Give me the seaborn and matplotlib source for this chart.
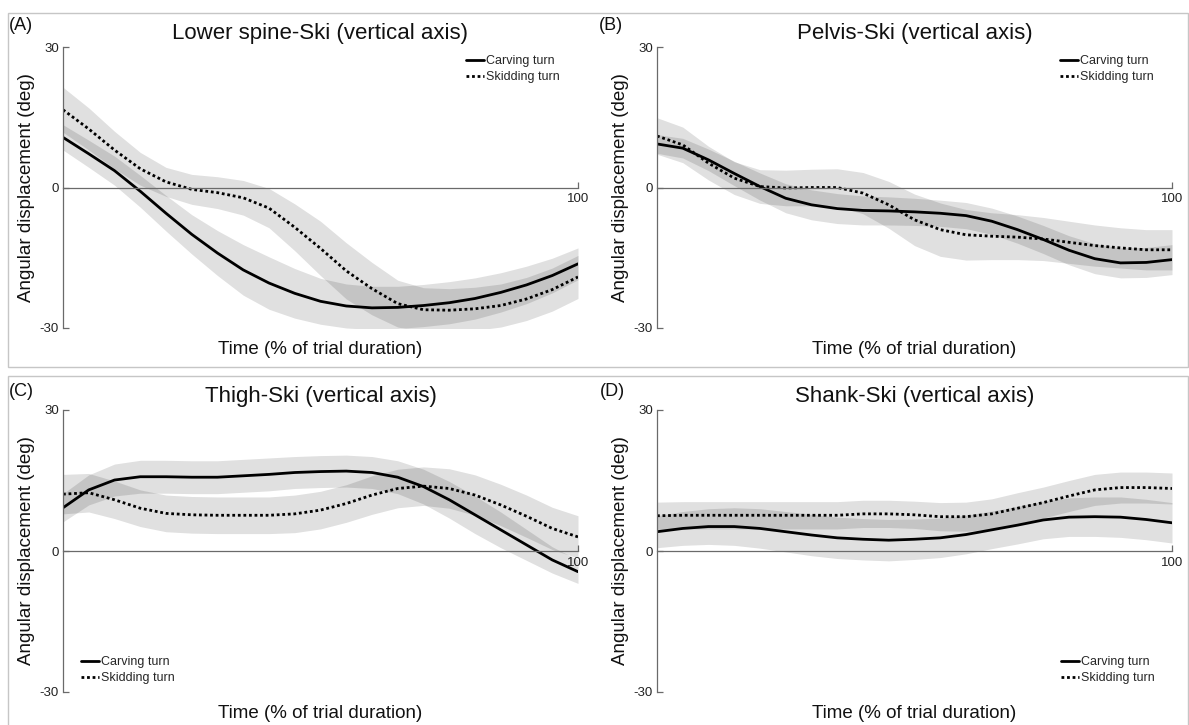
import pandas as pd
import seaborn as sns
import matplotlib.pyplot as plt
from matplotlib.patches import Rectangle

# time axis, % of trial duration
time_pct = [0, 5, 10, 15, 20, 25, 30, 35, 40, 45, 50, 55, 60, 65, 70, 75, 80, 85, 90, 95, 100]

# (A) Lower spine-Ski
spine_carv = [10.7, 7.2, 3.6, -0.8, -5.5, -10.0, -14.0, -17.6, -20.4, -22.6, -24.3, -25.3, -25.7, -25.6, -25.2, -24.6, -23.7, -22.4, -20.8, -18.8, -16.3]
spine_carv_sd = [2.7, 2.9, 3.1, 3.4, 3.8, 4.2, 4.8, 5.4, 5.6, 5.3, 4.9, 4.7, 4.6, 4.5, 4.5, 4.5, 4.4, 4.2, 4.0, 3.7, 3.4]
spine_skid = [16.6, 12.5, 8.0, 4.0, 1.2, -0.4, -1.1, -2.2, -4.4, -8.5, -13.0, -17.8, -21.6, -24.8, -26.1, -26.2, -25.9, -25.2, -23.8, -21.8, -19.1]
spine_skid_sd = [4.8, 4.5, 4.0, 3.5, 3.1, 3.2, 3.4, 3.7, 4.2, 5.0, 5.8, 6.0, 5.6, 5.0, 4.7, 4.6, 4.6, 4.6, 4.6, 4.6, 4.6]

# (B) Pelvis-Ski
pelvis_carv = [9.3, 8.4, 5.9, 3.0, 0.2, -2.3, -3.7, -4.5, -4.9, -5.0, -5.2, -5.5, -6.0, -7.2, -9.0, -11.1, -13.4, -15.2, -16.1, -16.0, -15.4]
pelvis_carv_sd = [2.0, 2.1, 2.3, 2.6, 2.9, 3.1, 3.2, 3.2, 3.1, 3.0, 2.9, 2.8, 2.8, 2.8, 2.9, 3.0, 3.1, 3.2, 3.2, 3.2, 3.2]
pelvis_skid = [11.0, 9.1, 5.2, 2.0, 0.2, -0.1, 0.0, 0.0, -1.2, -3.7, -6.9, -9.0, -10.1, -10.4, -10.6, -11.0, -11.7, -12.4, -12.9, -13.3, -13.3]
pelvis_skid_sd = [3.9, 3.8, 3.6, 3.5, 3.6, 3.8, 3.9, 4.0, 4.4, 5.0, 5.5, 5.7, 5.4, 5.0, 4.8, 4.6, 4.5, 4.4, 4.3, 4.3, 4.3]

# (C) Thigh-Ski
thigh_carv = [9.2, 13.0, 15.1, 15.8, 15.8, 15.7, 15.7, 16.0, 16.3, 16.7, 16.9, 17.0, 16.7, 15.7, 13.7, 10.9, 7.7, 4.5, 1.3, -1.9, -4.4]
thigh_carv_sd = [3.0, 3.2, 3.4, 3.5, 3.5, 3.5, 3.5, 3.5, 3.5, 3.4, 3.4, 3.4, 3.4, 3.5, 3.7, 3.9, 4.0, 3.8, 3.3, 2.8, 2.5]
thigh_skid = [12.1, 12.4, 10.9, 9.1, 8.0, 7.7, 7.6, 7.6, 7.6, 7.9, 8.7, 10.1, 11.9, 13.3, 13.8, 13.3, 11.9, 9.8, 7.4, 4.8, 3.0]
thigh_skid_sd = [4.2, 4.1, 4.0, 3.9, 3.9, 3.9, 3.9, 3.9, 3.9, 4.0, 4.0, 4.0, 4.1, 4.1, 4.1, 4.2, 4.3, 4.4, 4.5, 4.5, 4.5]

# (D) Shank-Ski
shank_carv = [4.1, 4.8, 5.2, 5.2, 4.8, 4.1, 3.4, 2.8, 2.5, 2.3, 2.5, 2.8, 3.5, 4.5, 5.5, 6.6, 7.2, 7.3, 7.2, 6.7, 6.0]
shank_carv_sd = [3.4, 3.6, 3.8, 4.0, 4.2, 4.3, 4.4, 4.4, 4.4, 4.4, 4.3, 4.2, 4.1, 4.0, 4.0, 4.0, 4.1, 4.2, 4.3, 4.3, 4.3]
shank_skid = [7.5, 7.6, 7.6, 7.6, 7.6, 7.6, 7.6, 7.6, 7.9, 7.9, 7.7, 7.3, 7.3, 7.9, 9.1, 10.3, 11.7, 13.0, 13.5, 13.5, 13.3]
shank_skid_sd = [2.9, 2.9, 2.9, 2.9, 2.9, 2.9, 2.9, 2.9, 2.9, 2.9, 2.9, 3.0, 3.1, 3.2, 3.3, 3.3, 3.3, 3.3, 3.3, 3.3, 3.3]

panels = [
    ('(A)', 'Lower spine-Ski (vertical axis)', spine_carv, spine_carv_sd, spine_skid, spine_skid_sd),
    ('(B)', 'Pelvis-Ski (vertical axis)', pelvis_carv, pelvis_carv_sd, pelvis_skid, pelvis_skid_sd),
    ('(C)', 'Thigh-Ski (vertical axis)', thigh_carv, thigh_carv_sd, thigh_skid, thigh_skid_sd),
    ('(D)', 'Shank-Ski (vertical axis)', shank_carv, shank_carv_sd, shank_skid, shank_skid_sd),
]

sns.set_style('white')
plt.rcParams['font.family'] = ['Liberation Sans', 'DejaVu Sans']

W, H = 1189, 725
fig = plt.figure(figsize=(W / 100, H / 100), dpi=100)

# axes boxes in pixels: left, top, right, bottom
boxes = [(63, 47, 578, 328), (657, 47, 1172, 328), (63, 410, 578, 692), (657, 410, 1172, 692)]
legend_pos = [('upper right', (0.965, 0.971)), ('upper right', (0.965, 0.971)),
              ('lower left', (0.034, 0.028)), ('lower right', (0.967, 0.028))]
label_pos = [(9, 25), (599, 25), (9, 391), (600, 391)]

# light grey frames around the two rows
for top, bot in [(13, 367), (376, 726)]:
    fig.add_artist(Rectangle((8 / W, 1 - bot / H), (W - 9) / W, (bot - top) / H,
                             transform=fig.transFigure, fill=False, ec='#c6c6c6', lw=1))

spine_col = '#6a6a6a'

for i, (tag, title, carv, carv_sd, skid, skid_sd) in enumerate(panels):
    l, t, r, b = boxes[i]
    ax = fig.add_axes([l / W, 1 - b / H, (r - l) / W, (b - t) / H])

    df = pd.DataFrame({'time': time_pct * 2,
                       'angle': carv + skid,
                       'sd': carv_sd + skid_sd,
                       'turn': ['Carving turn'] * len(time_pct) + ['Skidding turn'] * len(time_pct)})

    for turn, g in df.groupby('turn'):
        ax.fill_between(g['time'], g['angle'] - g['sd'], g['angle'] + g['sd'],
                        color='k', alpha=0.12, lw=0)

    sns.lineplot(data=df, x='time', y='angle', style='turn',
                 dashes={'Carving turn': '', 'Skidding turn': (1, 1)},
                 color='k', lw=2, ax=ax)

    ax.set_xlim(0, 100)
    ax.set_ylim(-30, 30)
    ax.set_yticks([-30, 0, 30])
    ax.set_yticklabels(['-30', '0', '30'])
    ax.set_xticks([100])
    ax.set_xticklabels(['100'])
    ax.tick_params(axis='both', direction='in', length=4, width=0.9, color=spine_col,
                   labelsize=9.5, labelcolor='#222222', pad=3)
    ax.tick_params(axis='y', left=True)
    ax.tick_params(axis='x', bottom=True, pad=4)

    for s in ['top', 'right']:
        ax.spines[s].set_visible(False)
    ax.spines['bottom'].set_position(('data', 0))
    ax.spines['bottom'].set_color(spine_col)
    ax.spines['left'].set_color(spine_col)
    ax.spines['bottom'].set_linewidth(0.9)
    ax.spines['left'].set_linewidth(0.9)

    ax.set_title(title, fontsize=16, pad=6, color='#111111')
    ax.set_xlabel('Time (% of trial duration)', fontsize=13.5, color='#111111')
    ax.set_ylabel('Angular displacement (deg)', fontsize=13.5, color='#111111')
    ax.xaxis.set_label_coords(0.5, -0.045)
    ax.yaxis.set_label_coords(-0.055, 0.5)

    h, lab = ax.get_legend_handles_labels()
    loc, anchor = legend_pos[i]
    ax.legend(h, lab, loc=loc, bbox_to_anchor=anchor, frameon=False, fontsize=9,
              handlelength=1.45, handletextpad=0.15, labelspacing=0.3,
              borderpad=0, borderaxespad=0)

    lx, ly = label_pos[i]
    fig.text(lx / W, 1 - ly / H, tag, fontsize=13, va='center', ha='left', color='#111111')

fig.savefig('out.png', dpi=100)
